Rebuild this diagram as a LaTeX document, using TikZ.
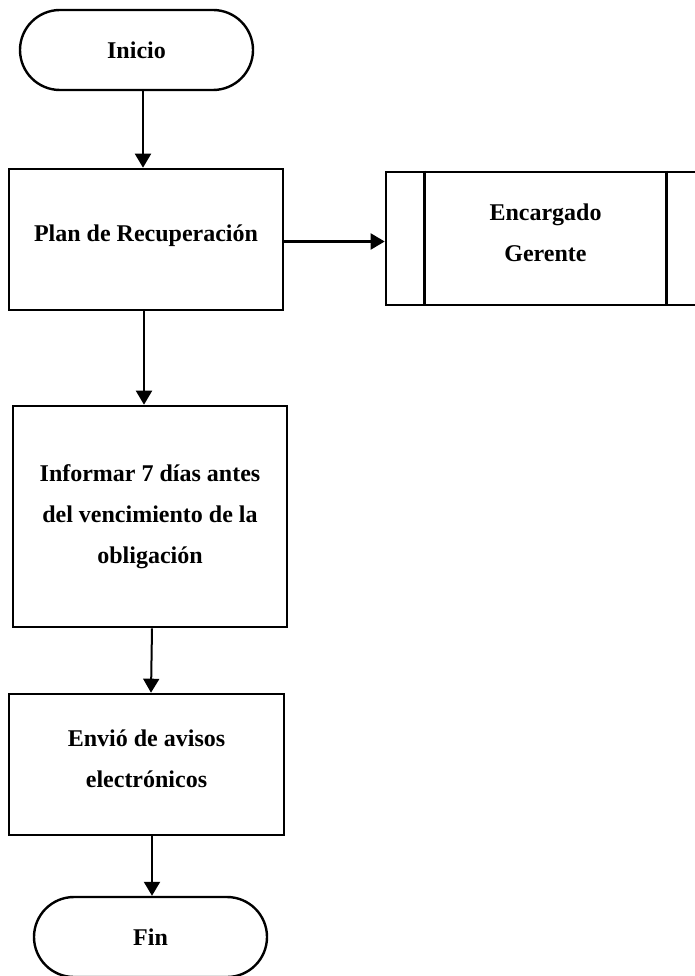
\documentclass[tikz,border=0pt]{standalone}
\usepackage{fontspec}
\setmainfont{Liberation Serif}
\usepackage{tikz}
\usetikzlibrary{arrows.meta, positioning}

\begin{document}
\begin{tikzpicture}[
    x=1pt, y=-1pt,
    terminal/.style={rectangle, draw, line width=2.4pt, rounded corners=40pt, minimum width=233pt, minimum height=80pt, font=\fontsize{24}{41}\selectfont\bfseries},
    box/.style={rectangle, draw, line width=2.6pt, minimum width=274pt, align=center, font=\fontsize{24}{41}\selectfont\bfseries},
    predef/.style={box, minimum width=319pt, minimum height=133pt},
    arrow/.style={-{Triangle[width=16pt,length=14pt]}, line width=2pt}
]
    \useasboundingbox (0,0) rectangle (694,976);

    \node[terminal] (inicio) at (136.5, 50) {Inicio};
    \node[box, minimum height=141pt] (plan) at (146, 239.5) {Plan de Recuperaci\'on\\[-28pt]\mbox{}};
    \node[predef] (encargado) at (545.5, 238.5) {Encargado\\Gerente\\[-30pt]\mbox{}};
    \node[box, minimum height=221pt] (informar) at (150, 516.5) {Informar 7 d\'ias antes\\del vencimiento de la\\obligaci\'on};
    \node[box, minimum width=275pt, minimum height=141pt] (envio) at (146.5, 764.5) {Envi\'o de avisos\\electr\'onicos\\[-30pt]\mbox{}};
    \node[terminal] (fin) at (150.5, 937) {Fin};

    % side bars of the predefined process
    \draw[line width=2.6pt] ([xshift=40pt]encargado.north west) -- ([xshift=40pt]encargado.south west);
    \draw[line width=2.6pt] ([xshift=-40pt]encargado.north east) -- ([xshift=-40pt]encargado.south east);

    \draw[arrow] ([xshift=6.5pt]inicio.south) -- ([xshift=-3pt]plan.north);
    \draw[arrow] ([yshift=-2pt]plan.east) -- ([yshift=-2pt]plan.east -| encargado.west);
    \draw[arrow] ([xshift=-2pt]plan.south) -- ([xshift=-6pt]informar.north);
    \draw[arrow] ([xshift=2pt]informar.south) -- ([xshift=4.5pt]envio.north);
    \draw[arrow] ([xshift=5.5pt]envio.south) -- ([xshift=1.5pt]fin.north);
\end{tikzpicture}
\end{document}
